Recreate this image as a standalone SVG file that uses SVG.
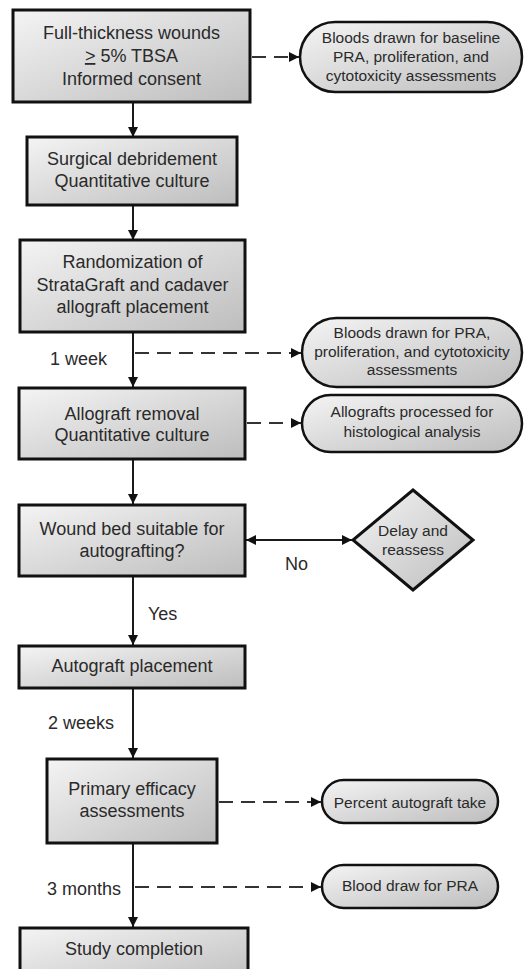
<svg xmlns="http://www.w3.org/2000/svg" width="527" height="969" viewBox="0 0 527 969">
<defs>
<linearGradient id="g" x1="0" y1="0" x2="1" y2="1">
<stop offset="0" stop-color="#f4f4f4"/>
<stop offset="1" stop-color="#bdbdbd"/>
</linearGradient>
<marker id="ah" viewBox="0 0 10 10" refX="10" refY="5" markerWidth="5" markerHeight="5" orient="auto-start-reverse" markerUnits="strokeWidth">
<path d="M0,0 L10,5 L0,10 z" fill="#111"/>
</marker>
</defs>
<style>
.box{fill:url(#g);stroke:#111;stroke-width:3}
.ov{fill:url(#g);stroke:#111;stroke-width:2.5}
.t{font-family:"Liberation Sans",Arial,sans-serif;font-size:18px;fill:#2a2a2a;text-anchor:middle}
.s{font-family:"Liberation Sans",Arial,sans-serif;font-size:15.5px;fill:#2a2a2a;text-anchor:middle}
.l{font-family:"Liberation Sans",Arial,sans-serif;font-size:18px;fill:#2a2a2a}
.c{fill:none;stroke:#1a1a1a;stroke-width:2}
.d{fill:none;stroke:#333;stroke-width:2;stroke-dasharray:14 8}
</style>
<rect width="527" height="969" fill="#fff"/>
<g id="connectors">
<line class="c" x1="133" y1="102" x2="133" y2="137" marker-end="url(#ah)"/>
<line class="c" x1="133" y1="205" x2="133" y2="240" marker-end="url(#ah)"/>
<line class="c" x1="133" y1="332" x2="133" y2="387" marker-end="url(#ah)"/>
<line class="c" x1="133" y1="459" x2="133" y2="504" marker-end="url(#ah)"/>
<line class="c" x1="133" y1="576" x2="133" y2="645" marker-end="url(#ah)"/>
<line class="c" x1="133" y1="688" x2="133" y2="758" marker-end="url(#ah)"/>
<line class="c" x1="133" y1="843" x2="133" y2="927" marker-end="url(#ah)"/>
<line class="c" x1="246" y1="540" x2="352" y2="540" marker-start="url(#ah)" marker-end="url(#ah)"/>
<line class="d" x1="252" y1="57" x2="299" y2="57" marker-end="url(#ah)"/>
<line class="d" x1="135" y1="353" x2="301" y2="353" marker-end="url(#ah)"/>
<line class="d" x1="247" y1="423" x2="301" y2="423" marker-end="url(#ah)"/>
<line class="d" x1="219" y1="802" x2="321" y2="802" marker-end="url(#ah)"/>
<line class="d" x1="135" y1="887" x2="321" y2="887" marker-end="url(#ah)"/>
<text class="l" x="50" y="365">1 week</text>
<text class="l" x="285" y="570">No</text>
<text class="l" x="148" y="620">Yes</text>
<text class="l" x="48" y="729">2 weeks</text>
<text class="l" x="47" y="895">3 months</text>
</g>
<g id="n1">
<rect class="box" x="13" y="10" width="237" height="92"/>
<text class="t" x="131.5" y="39">Full-thickness wounds</text>
<text class="t" x="131.5" y="62"><tspan text-decoration="underline">&gt;</tspan> 5% TBSA</text>
<text class="t" x="131.5" y="85">Informed consent</text>
</g>
<g id="o1">
<rect class="ov" x="300" y="22" width="222" height="70" rx="35"/>
<text class="s" x="411" y="43">Bloods drawn for baseline</text>
<text class="s" x="411" y="62">PRA, proliferation, and</text>
<text class="s" x="411" y="81">cytotoxicity assessments</text>
</g>
<g id="n2">
<rect class="box" x="27" y="137" width="210" height="68"/>
<text class="t" x="132" y="165">Surgical debridement</text>
<text class="t" x="132" y="187">Quantitative culture</text>
</g>
<g id="n3">
<rect class="box" x="20" y="240" width="225" height="92"/>
<text class="t" x="132.5" y="268">Randomization of</text>
<text class="t" x="132.5" y="291">StrataGraft and cadaver</text>
<text class="t" x="132.5" y="313">allograft placement</text>
</g>
<g id="o2">
<rect class="ov" x="302" y="318" width="220" height="69" rx="34.5"/>
<text class="s" x="412" y="338">Bloods drawn for PRA,</text>
<text class="s" x="412" y="357">proliferation, and cytotoxicity</text>
<text class="s" x="412" y="375">assessments</text>
</g>
<g id="n4">
<rect class="box" x="19" y="388" width="226" height="71"/>
<text class="t" x="132" y="420">Allograft removal</text>
<text class="t" x="132" y="441">Quantitative culture</text>
</g>
<g id="o3">
<rect class="ov" x="302" y="395" width="220" height="57" rx="28.5"/>
<text class="s" x="412" y="417">Allografts processed for</text>
<text class="s" x="412" y="437">histological analysis</text>
</g>
<g id="n5">
<rect class="box" x="19" y="505" width="226" height="71"/>
<text class="t" x="132" y="535">Wound bed suitable for</text>
<text class="t" x="132" y="557">autografting?</text>
</g>
<g id="d1">
<polygon class="box" points="413,490 473,540 413,590 353,540"/>
<text class="s" x="413" y="536">Delay and</text>
<text class="s" x="413" y="555">reassess</text>
</g>
<g id="n6">
<rect class="box" x="19" y="646" width="226" height="42"/>
<text class="t" x="132" y="672">Autograft placement</text>
</g>
<g id="n7">
<rect class="box" x="47" y="759" width="170" height="84"/>
<text class="t" x="132" y="795">Primary efficacy</text>
<text class="t" x="132" y="817">assessments</text>
</g>
<g id="o4">
<rect class="ov" x="322" y="780" width="176" height="43" rx="21.5"/>
<text class="s" x="410" y="808">Percent autograft take</text>
</g>
<g id="o5">
<rect class="ov" x="322" y="865" width="176" height="43" rx="21.5"/>
<text class="s" x="410" y="891">Blood draw for PRA</text>
</g>
<g id="n8">
<rect class="box" x="20" y="928" width="228" height="60"/>
<text class="t" x="134" y="955">Study completion</text>
</g>
</svg>
